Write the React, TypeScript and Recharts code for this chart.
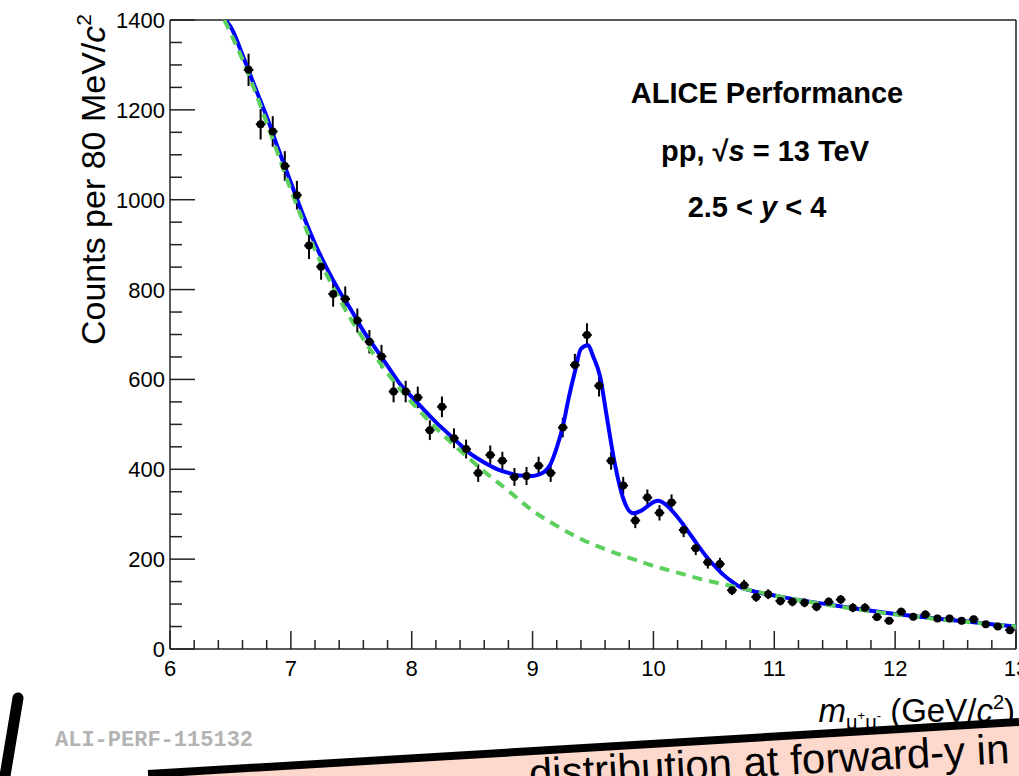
import React from "react";
import {
  ComposedChart,
  Line,
  Scatter,
  ErrorBar,
  XAxis,
  YAxis,
  ReferenceLine,
} from "recharts";

// dimuon invariant mass bins (GeV/c^2) and counts
const massBins = [
  6.65, 6.75, 6.85, 6.95, 7.05, 7.15, 7.25, 7.35, 7.45, 7.55, 7.65, 7.75, 7.85,
  7.95, 8.05, 8.15, 8.25, 8.35, 8.45, 8.55, 8.65, 8.75, 8.85, 8.95, 9.05, 9.15,
  9.25, 9.35, 9.45, 9.55, 9.65, 9.75, 9.85, 9.95, 10.05, 10.15, 10.25, 10.35,
  10.45, 10.55, 10.65, 10.75, 10.85, 10.95, 11.05, 11.15, 11.25, 11.35, 11.45,
  11.55, 11.65, 11.75, 11.85, 11.95, 12.05, 12.15, 12.25, 12.35, 12.45, 12.55,
  12.65, 12.75, 12.85, 12.95,
];
const counts = [
  1289, 1168, 1152, 1075, 1010, 898, 851, 790, 779, 731, 684, 651, 573, 573,
  560, 487, 539, 469, 445, 392, 432, 419, 383, 385, 408, 392, 493, 632, 699,
  586, 419, 364, 286, 337, 303, 326, 265, 224, 193, 189, 131, 142, 116, 122,
  107, 105, 103, 94, 105, 110, 92, 92, 71, 63, 83, 72, 77, 68, 68, 63, 66, 55,
  50, 42,
];
const countErr = [
  36, 34, 34, 33, 32, 30, 29, 28, 28, 27, 26, 26, 24, 24, 24, 22, 23, 22, 21,
  20, 21, 20, 20, 20, 20, 20, 22, 25, 26, 24, 20, 19, 17, 18, 17, 18, 16, 15,
  14, 14, 11, 12, 11, 11, 10, 10, 10, 10, 10, 10, 10, 10, 8, 8, 9, 8, 9, 8, 8,
  8, 8, 7, 7, 6,
];
const binHalfWidth = 0.04;

// total fit (blue)
const fitMass = [
  6.46, 6.51, 6.6, 6.7, 6.8, 6.9, 7.0, 7.1, 7.2, 7.3, 7.4, 7.5, 7.6, 7.7, 7.8,
  7.9, 8.0, 8.1, 8.2, 8.3, 8.4, 8.5, 8.6, 8.7, 8.8, 8.9, 9.0, 9.05, 9.1, 9.15,
  9.2, 9.25, 9.3, 9.35, 9.4, 9.46, 9.5, 9.56, 9.61, 9.68, 9.75, 9.83, 9.9, 10.0,
  10.04, 10.1, 10.16, 10.23, 10.3, 10.37, 10.44, 10.51, 10.58, 10.65, 10.71,
  10.78, 10.85, 11.0, 11.2, 11.4, 11.6, 11.8, 12.0, 12.2, 12.4, 12.6, 12.8, 13.0,
];
const fitTotal = [
  1400, 1381, 1322, 1253, 1185, 1110, 1038, 967, 902, 846, 797, 754, 708, 669,
  630, 591, 561, 533, 505, 480, 455, 432, 415, 401, 392, 386, 385, 388, 395,
  412, 448, 495, 560, 617, 668, 676, 652, 605, 524, 413, 335, 302, 308, 327,
  330, 322, 306, 283, 257, 230, 205, 184, 165, 150, 139, 132, 127, 119, 109,
  101, 93, 85, 78, 72, 66, 61, 55, 50,
];

// background (green dashed)
const bkgMass = [
  6.45, 6.6, 6.8, 7.0, 7.2, 7.4, 7.6, 7.8, 8.0, 8.2, 8.4, 8.6, 8.8, 9.0, 9.2,
  9.4, 9.6, 9.8, 10.0, 10.2, 10.4, 10.6, 10.8, 11.0, 11.2, 11.4, 11.6, 11.8,
  12.0, 12.2, 12.4, 12.6, 12.8, 13.0,
];
const bkgCounts = [
  1400, 1312, 1172, 1022, 888, 780, 690, 614, 549, 492, 442, 395, 352, 308,
  274, 245, 222, 203, 185, 170, 155, 143, 131, 119, 109, 100, 92, 84, 77, 71,
  65, 60, 55, 50,
];

const xTicks = [
  6, 6.2, 6.4, 6.6, 6.8, 7, 7.2, 7.4, 7.6, 7.8, 8, 8.2, 8.4, 8.6, 8.8, 9, 9.2,
  9.4, 9.6, 9.8, 10, 10.2, 10.4, 10.6, 10.8, 11, 11.2, 11.4, 11.6, 11.8, 12,
  12.2, 12.4, 12.6, 12.8, 13,
];
const yTicks = [
  0, 50, 100, 150, 200, 250, 300, 350, 400, 450, 500, 550, 600, 650, 700, 750,
  800, 850, 900, 950, 1000, 1050, 1100, 1150, 1200, 1250, 1300, 1350, 1400,
];

const points = massBins.map((m, i) => ({
  x: m,
  y: counts[i],
  ey: countErr[i],
  ex: binHalfWidth,
}));
const fitData = fitMass.map((m, i) => ({ x: m, y: fitTotal[i] }));
const bkgData = bkgMass.map((m, i) => ({ x: m, y: bkgCounts[i] }));

const FONT = "'Liberation Sans', Arial, Helvetica, sans-serif";
const AXIS = "#222";

const XTick = (props: any) => {
  const { x, y, payload } = props;
  const v = payload.value;
  const major = Math.abs(v - Math.round(v)) < 1e-6;
  return (
    <g>
      <line x1={x} x2={x} y1={y} y2={y - (major ? 18 : 9)} stroke={AXIS} strokeWidth={1.5} />
      {major && (
        <text x={x} y={y + 27} textAnchor="middle" fontSize={22} fontFamily={FONT} fill="#000">
          {Math.round(v)}
        </text>
      )}
    </g>
  );
};

const YTick = (props: any) => {
  const { x, y, payload } = props;
  const v = payload.value;
  const major = v % 200 === 0;
  return (
    <g>
      <line x1={x} x2={x + (major ? 25 : 12)} y1={y} y2={y} stroke={AXIS} strokeWidth={1.5} />
      {major && (
        <text x={x - 5} y={y + 8} textAnchor="end" fontSize={22} fontFamily={FONT} fill="#000">
          {v}
        </text>
      )}
    </g>
  );
};

const Dot = (props: any) => <circle cx={props.cx} cy={props.cy} r={4} fill="#000" />;

export default function App() {
  return (
    <div style={{ position: "absolute", left: 0, top: 0, width: 1019, height: 776, background: "#fff" }}>
      <ComposedChart
        width={1019}
        height={776}
        margin={{ top: 20, right: 3, bottom: 0, left: 0 }}
      >
        <XAxis
          type="number"
          dataKey="x"
          domain={[6, 13]}
          allowDataOverflow
          ticks={xTicks}
          interval={0}
          tickSize={0}
          tickMargin={0}
          tick={<XTick />}
          height={127}
          axisLine={{ stroke: AXIS, strokeWidth: 1.5 }}
          tickLine={false}
        />
        <YAxis
          type="number"
          domain={[0, 1400]}
          allowDataOverflow
          ticks={yTicks}
          interval={0}
          tickSize={0}
          tickMargin={0}
          tick={<YTick />}
          width={170}
          axisLine={{ stroke: AXIS, strokeWidth: 1.5 }}
          tickLine={false}
        />
        <ReferenceLine y={1400} stroke={AXIS} strokeWidth={1.5} />
        <ReferenceLine x={13} stroke={AXIS} strokeWidth={1.5} />
        <Scatter data={points} dataKey="y" shape={<Dot />} isAnimationActive={false}>
          <ErrorBar dataKey="ey" direction="y" width={0} stroke="#000" strokeWidth={2} />
          <ErrorBar dataKey="ex" direction="x" width={0} stroke="#000" strokeWidth={2} />
        </Scatter>
        <Line
          data={fitData}
          dataKey="y"
          type="monotone"
          stroke="#0000ff"
          strokeWidth={4}
          dot={false}
          activeDot={false}
          isAnimationActive={false}
        />
        <Line
          data={bkgData}
          dataKey="y"
          type="monotone"
          stroke="#5ccf5c"
          strokeWidth={4}
          strokeDasharray="10 7"
          dot={false}
          activeDot={false}
          isAnimationActive={false}
        />
      </ComposedChart>

      <svg
        width={1019}
        height={776}
        style={{ position: "absolute", left: 0, top: 0, pointerEvents: "none" }}
        fontFamily={FONT}
      >
        <text
          transform="translate(105,14) rotate(-90)"
          textAnchor="end"
          fontSize={34}
          fill="#000"
        >
          Counts per 80 MeV/<tspan fontStyle="italic">c</tspan>
          <tspan fontSize={21} dy={-14}>2</tspan>
        </text>

        <text x={1015} y={722} textAnchor="end" fontSize={33} fill="#000">
          <tspan fontStyle="italic">m</tspan>
          <tspan fontSize={20} dy={7}>μ</tspan>
          <tspan fontSize={13} dy={-9}>+</tspan>
          <tspan fontSize={20} dy={9}>μ</tspan>
          <tspan fontSize={13} dy={-9}>-</tspan>
          <tspan dy={2}> (GeV/</tspan>
          <tspan fontStyle="italic">c</tspan>
          <tspan fontSize={20} dy={-13}>2</tspan>
          <tspan dy={13}>)</tspan>
        </text>

        <g fontWeight="bold" fill="#000" fontSize={29} textAnchor="middle" style={{ whiteSpace: "pre" }}>
          <text x={767} y={103}>ALICE Performance</text>
          <text x={765} y={161}>
            {"pp,  √"}<tspan fontStyle="italic">s</tspan>{" = 13 TeV"}
          </text>
          <text x={757} y={217}>
            {"2.5 <  "}<tspan fontStyle="italic">y</tspan>{" < 4"}
          </text>
        </g>

        <text
          x={55}
          y={746}
          fontFamily="'Liberation Mono', 'Courier New', monospace"
          fontWeight="bold"
          fontSize={22}
          fill="#b3b3b3"
        >
          ALI-PERF-115132
        </text>

        <polygon points="150,776 1019,720 1019,776" fill="#fdd8cd" />
        <line x1={148} y1={774} x2={1019} y2={722} stroke="#000" strokeWidth={8} />
        <text
          transform="translate(1010,763) rotate(-3)"
          textAnchor="end"
          fontSize={42}
          fill="#000"
        >
          distribution at forward-y in
        </text>
        <line x1={18} y1={698} x2={5} y2={776} stroke="#000" strokeWidth={11} strokeLinecap="round" />
      </svg>
    </div>
  );
}
